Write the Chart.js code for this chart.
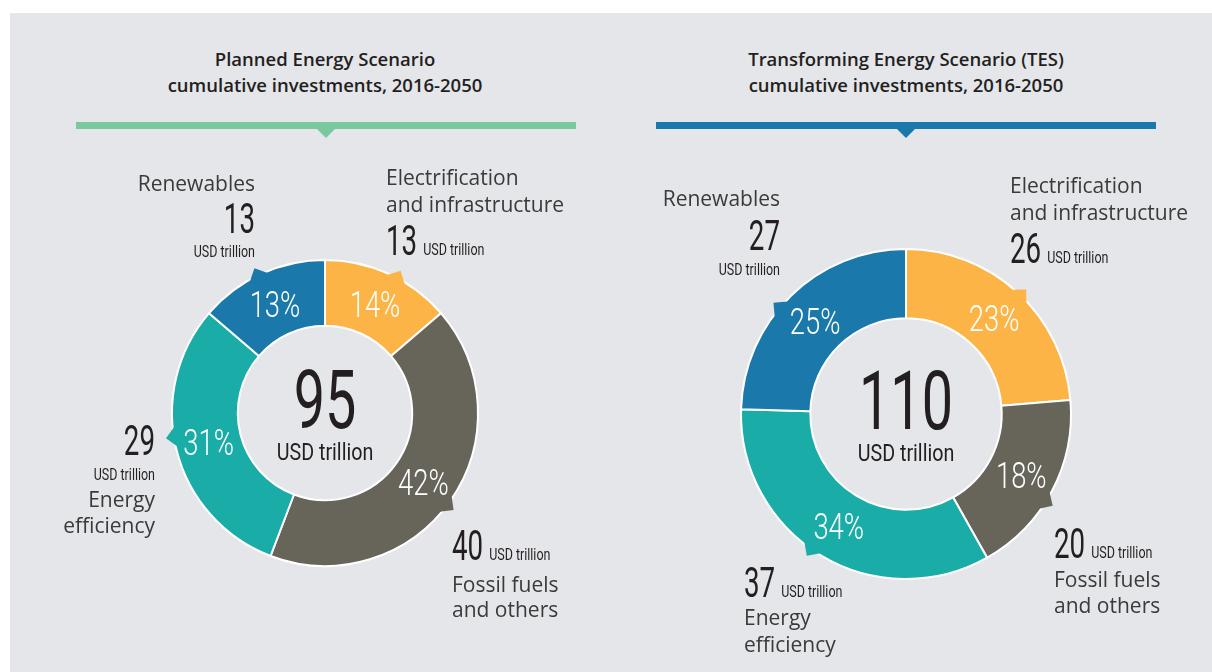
<!DOCTYPE html>
<html>
<head>
<meta charset="utf-8">
<script src="https://cdn.jsdelivr.net/npm/chart.js@4.4.1/dist/chart.umd.min.js"></script>
<style>
  html, body { margin: 0; padding: 0; background: #fff; width: 1212px; height: 672px; overflow: hidden; }
  .panel { position: absolute; left: 10px; top: 13px; width: 1202px; height: 659px; background: #e5e6ea; }
  .title {
    position: absolute; top: 46px; width: 600px; text-align: center;
    font: 600 18.5px "Open Sans", sans-serif; line-height: 26px; color: #231f20;
  }
  .bar { position: absolute; top: 122px; width: 500px; height: 7px; }
  .bar .tip {
    position: absolute; left: 241px; top: 7px; width: 0; height: 0;
    border-left: 9px solid transparent; border-right: 9px solid transparent;
    border-top: 9px solid;
  }
  canvas { position: absolute; }
</style>
</head>
<body>
<div class="panel"></div>

<div class="title" style="left:25px">Planned Energy Scenario<br>cumulative investments, 2016-2050</div>
<div class="title" style="left:606px">Transforming Energy Scenario (TES)<br>cumulative investments, 2016-2050</div>

<div class="bar" style="left:76px;background:#79c89e"><div class="tip" style="color:#79c89e"></div></div>
<div class="bar" style="left:656px;background:#1a79aa"><div class="tip" style="color:#1a79aa"></div></div>

<canvas id="pesChart" width="600" height="520" style="left:25px;top:153px"></canvas>
<canvas id="tesChart" width="600" height="520" style="left:606px;top:154px"></canvas>

<script>
// slices go clockwise from 12 o'clock
const categories = ["Electrification and infrastructure", "Fossil fuels and others", "Energy efficiency", "Renewables"];
const sliceColors = ["#fdb446", "#67645a", "#1aaca6", "#1a79aa"];

// Planned Energy Scenario, USD trillion and shown shares (%)
const pesUsd = [13, 40, 29, 13];
const pesShare = [14, 42, 31, 13];

// Transforming Energy Scenario, USD trillion and shown shares (%)
const tesUsd = [26, 20, 37, 27];
const tesShare = [23, 18, 34, 25];

const unitLabel = "USD trillion";
const nameLines = [["Electrification", "and infrastructure"], ["Fossil fuels", "and others"], ["Energy", "efficiency"], ["Renewables"]];

// callout layout, offsets from donut centre (px). kind:
//  "nameTop"    name, big number, unit under it
//  "nameInline" name, big number + unit on one row
//  "numTop"     big number, unit under, name
//  "numInline"  big number + unit on one row, name
const pesCallouts = [
  { kind: "nameInline", align: "left", dx: 61, rows: [-228, -201, -158], notch: 28 },
  { kind: "numInline", align: "left", dx: 127, rows: [147, 179, 204], notch: 127 },
  { kind: "numTop", align: "right", dx: -170, rows: [42, 67, 94, 120], notch: 261 },
  { kind: "nameTop", align: "right", dx: -70, rows: [-222, -180, -156], notch: 334 },
];
const tesCallouts = [
  { kind: "nameInline", align: "left", dx: 104, rows: [-221, -194, -151], notch: 44 },
  { kind: "numInline", align: "left", dx: 148, rows: [144, 173, 199], notch: 122 },
  { kind: "numInline", align: "left", dx: -162, rows: [183, 211, 238], notch: 215 },
  { kind: "nameTop", align: "right", dx: -126, rows: [-208, -164, -139], notch: 310 },
];

const DARK = "#231f20";
const LABEL = "#3a3a3a";

// condensed text: squeeze a normal face horizontally
function condText(ctx, text, x, y, size, weight, sx, align, color) {
  ctx.save();
  ctx.font = weight + " " + size + "px Roboto, sans-serif";
  ctx.textAlign = "left";
  ctx.textBaseline = "alphabetic";
  ctx.fillStyle = color;
  const w = ctx.measureText(text).width * sx;
  let x0 = x;
  if (align === "center") x0 = x - w / 2;
  else if (align === "right") x0 = x - w;
  ctx.translate(x0, y);
  ctx.scale(sx, 1);
  ctx.fillText(text, 0, 0);
  ctx.restore();
  return w;
}

function plainText(ctx, text, x, y, align) {
  ctx.save();
  ctx.font = '400 21px "Open Sans", sans-serif';
  ctx.textAlign = align;
  ctx.textBaseline = "alphabetic";
  ctx.fillStyle = LABEL;
  ctx.fillText(text, x, y);
  ctx.restore();
}

function drawCallout(ctx, cx, cy, c, value, names) {
  const x = cx + c.dx;
  const r = c.rows.map((d) => cy + d);
  const num = String(value);
  if (c.kind === "nameTop") {
    names.forEach((n, i) => plainText(ctx, n, x, r[i], c.align));
    condText(ctx, num, x, r[names.length], 42, 400, 0.66, c.align, DARK);
    condText(ctx, unitLabel, x, r[names.length + 1], 16, 400, 0.78, c.align, DARK);
  } else if (c.kind === "nameInline") {
    names.forEach((n, i) => plainText(ctx, n, x, r[i], c.align));
    const w = condText(ctx, num, x, r[names.length], 42, 400, 0.66, "left", DARK);
    condText(ctx, unitLabel, x + w + 6, r[names.length], 16, 400, 0.78, "left", DARK);
  } else if (c.kind === "numTop") {
    condText(ctx, num, x, r[0], 42, 400, 0.66, c.align, DARK);
    condText(ctx, unitLabel, x, r[1], 16, 400, 0.78, c.align, DARK);
    names.forEach((n, i) => plainText(ctx, n, x, r[i + 2], c.align));
  } else {
    const w = condText(ctx, num, x, r[0], 42, 400, 0.66, "left", DARK);
    condText(ctx, unitLabel, x + w + 6, r[0], 16, 400, 0.78, "left", DARK);
    names.forEach((n, i) => plainText(ctx, n, x, r[i + 1], c.align));
  }
}

// notches, percentages, centre total and callouts
const donutDecor = {
  id: "donutDecor",
  afterDatasetsDraw(chart, args, opts) {
    const ctx = chart.ctx;
    const meta = chart.getDatasetMeta(0);
    const values = chart.data.datasets[0].data;
    const total = values.reduce((a, b) => a + b, 0);

    meta.data.forEach((arc, i) => {
      const p = arc.getProps(["x", "y", "outerRadius"], true);
      // small tab pointing at the callout
      const a = (opts.callouts[i].notch - 90) * Math.PI / 180;
      const h = 10;
      ctx.save();
      ctx.translate(p.x + (p.outerRadius - 2) * Math.cos(a), p.y + (p.outerRadius - 2) * Math.sin(a));
      ctx.rotate(a);
      ctx.beginPath();
      ctx.moveTo(h, 0);
      ctx.lineTo(0, h);
      ctx.lineTo(-h, 0);
      ctx.lineTo(0, -h);
      ctx.closePath();
      ctx.fillStyle = sliceColors[i];
      ctx.fill();
      ctx.restore();
    });

    meta.data.forEach((arc, i) => {
      const pos = arc.tooltipPosition();
      condText(ctx, opts.shares[i] + "%", pos.x, pos.y + 13, 37, 300, 0.74, "center", "#ffffff");
    });

    const c = meta.data[0].getProps(["x", "y"], true);
    condText(ctx, String(total), c.x, c.y + 15, 82, 400, 0.68, "center", DARK);
    condText(ctx, unitLabel, c.x, c.y + 47, 24, 400, 0.82, "center", DARK);

    meta.data.forEach((arc, i) => {
      drawCallout(ctx, c.x, c.y, opts.callouts[i], values[i], nameLines[i]);
    });
  },
};

function renderDonut(canvasId, values, shares, callouts, radius, cutout) {
  const canvas = document.getElementById(canvasId);
  if (!canvas) return;

  return new Chart(canvas.getContext("2d"), {
    type: "doughnut",
    data: {
      labels: categories,
      datasets: [
        {
          data: values,
          backgroundColor: sliceColors,
          borderColor: "#ffffff",
          borderWidth: 2,
          hoverOffset: 0,
        },
      ],
    },
    options: {
      responsive: false,
      animation: false,
      devicePixelRatio: 1,
      events: [],
      radius: radius,
      cutout: cutout,
      layout: { padding: 0 },
      plugins: {
        legend: { display: false },
        tooltip: { enabled: false },
        donutDecor: { shares: shares, callouts: callouts },
      },
    },
    plugins: [donutDecor],
  });
}

window.addEventListener("load", () => {
  renderDonut("pesChart", pesUsd, pesShare, pesCallouts, 153, "57%");
  renderDonut("tesChart", tesUsd, tesShare, tesCallouts, 165, "58%");
});
</script>
</body>
</html>
